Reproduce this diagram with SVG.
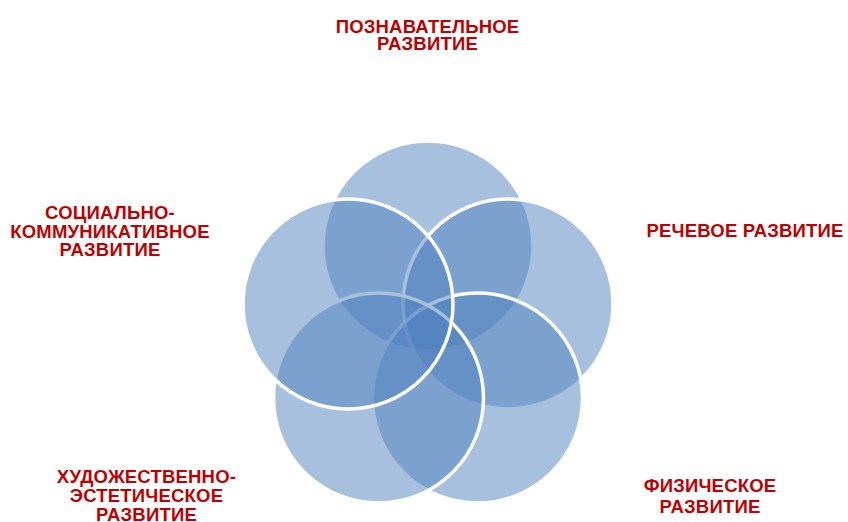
<svg xmlns="http://www.w3.org/2000/svg" width="848" height="522" viewBox="0 0 848 522">
<style>
.c{fill:#4f81bd;fill-opacity:0.5;stroke:#fff;stroke-width:3.5}
.t{font-family:"Liberation Sans",Arial,sans-serif;font-weight:bold;font-size:18.5px;letter-spacing:0.2px;fill:#c00000;text-anchor:middle}
</style>
<rect width="848" height="522" fill="#fff"/>
<g id="circles">
<g id="n1"><circle class="c" cx="428" cy="246" r="105"/></g>
<g id="n2"><circle class="c" cx="508" cy="304" r="105"/></g>
<g id="n3"><circle class="c" cx="477.5" cy="398" r="105"/></g>
<g id="n4"><circle class="c" cx="378.5" cy="398" r="105"/></g>
<g id="n5"><circle class="c" cx="348" cy="304" r="105"/></g>
</g>
<g id="labels">
<g id="l1"><text class="t" x="427.5" y="32.5">ПОЗНАВАТЕЛЬНОЕ</text><text class="t" x="427.5" y="49.5">РАЗВИТИЕ</text></g>
<g id="l2"><text class="t" x="745" y="237.3">РЕЧЕВОЕ РАЗВИТИЕ</text></g>
<g id="l3"><text class="t" x="710" y="491.7">ФИЗИЧЕСКОЕ</text><text class="t" x="710" y="512.7">РАЗВИТИЕ</text></g>
<g id="l4"><text class="t" x="146.5" y="483.3">ХУДОЖЕСТВЕННО-</text><text class="t" x="146.5" y="502.3">ЭСТЕТИЧЕСКОЕ</text><text class="t" x="146.5" y="521">РАЗВИТИЕ</text></g>
<g id="l5"><text class="t" x="110" y="219">СОЦИАЛЬНО-</text><text class="t" x="110" y="237.5">КОММУНИКАТИВНОЕ</text><text class="t" x="110" y="255.7">РАЗВИТИЕ</text></g>
</g>
</svg>
